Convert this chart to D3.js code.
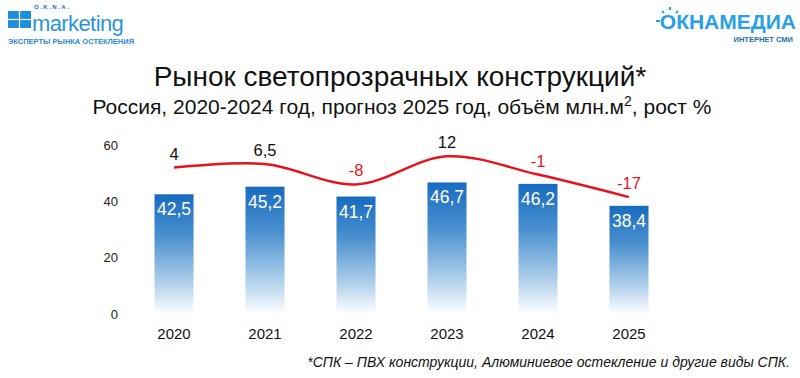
<!DOCTYPE html>
<html>
<head>
<meta charset="utf-8">
<script src="https://cdn.jsdelivr.net/npm/d3@7"></script>
<style>
  body { margin: 0; background: #fff; }
  svg { display: block; font-family: "Liberation Sans", Arial, sans-serif; }
</style>
</head>
<body>
<svg id="chart" width="800" height="378"></svg>
<script>
// данные
const years = ["2020", "2021", "2022", "2023", "2024", "2025"];
const volume = [42.5, 45.2, 41.7, 46.7, 46.2, 38.4];
const growth = [4, 6.5, -8, 12, -1, -17];
const yTicks = [0, 20, 40, 60];

const fmt = v => String(v).replace(".", ",");

let svg = d3.select("#chart");

let x = d3.scaleBand().domain(years).range([128.5, 674.5]).paddingInner(0.571).paddingOuter(0.2857);
let y = d3.scaleLinear().domain([0, 60]).range([314, 145]);
// вторая ось (рост %), не показана
let y2 = d3.scaleLinear().domain([-100, 20]).range([314, 145]);

// градиент столбиков
let grad = svg.append("defs").append("linearGradient")
  .attr("id", "barGrad").attr("x1", 0).attr("y1", 0).attr("x2", 0).attr("y2", 1);
grad.append("stop").attr("offset", "0%").attr("stop-color", "#176bbf");
grad.append("stop").attr("offset", "35%").attr("stop-color", "#4a90cf");
grad.append("stop").attr("offset", "75%").attr("stop-color", "#b3d2ec");
grad.append("stop").attr("offset", "100%").attr("stop-color", "#ffffff");

// заголовки
svg.append("text").attr("x", 400).attr("y", 86).attr("text-anchor", "middle")
  .attr("font-size", 28).attr("fill", "#111").text("Рынок светопрозрачных конструкций*");
let sub = svg.append("text").attr("x", 402).attr("y", 114).attr("text-anchor", "middle")
  .attr("font-size", 21).attr("fill", "#111");
sub.append("tspan").text("Россия, 2020-2024 год, прогноз 2025 год, объём млн.м");
sub.append("tspan").attr("font-size", 14).attr("dy", -8).text("2");
sub.append("tspan").attr("dy", 8).text(", рост %");

// ось Y
svg.append("g").selectAll("text")
  .data(yTicks).join("text")
  .attr("x", 118).attr("y", d => y(d)).attr("dy", "0.35em")
  .attr("text-anchor", "end").attr("font-size", 13).attr("fill", "#222")
  .text(d => d);

// столбики
svg.append("g").selectAll("rect")
  .data(volume).join("rect")
  .attr("x", (d, i) => x(years[i]))
  .attr("y", d => y(d))
  .attr("width", x.bandwidth())
  .attr("height", d => y(0) - y(d))
  .attr("fill", "url(#barGrad)");

svg.append("g").selectAll("text")
  .data(volume).join("text")
  .attr("x", (d, i) => x(years[i]) + x.bandwidth() / 2)
  .attr("y", d => y(d) + 21)
  .attr("text-anchor", "middle").attr("font-size", 17.5).attr("fill", "#fff")
  .text(d => fmt(d));

// подписи X
svg.append("g").selectAll("text")
  .data(years).join("text")
  .attr("x", d => x(d) + x.bandwidth() / 2).attr("y", 339)
  .attr("text-anchor", "middle").attr("font-size", 15).attr("fill", "#111")
  .text(d => d);

// линия роста
let line = d3.line()
  .x((d, i) => x(years[i]) + x.bandwidth() / 2)
  .y(d => y2(d))
  .curve(d3.curveCatmullRom.alpha(0.5));

svg.append("path")
  .datum(growth)
  .attr("fill", "none").attr("stroke", "#e8121a").attr("stroke-width", 2.5)
  .attr("d", line);

svg.append("g").selectAll("text")
  .data(growth).join("text")
  .attr("x", (d, i) => x(years[i]) + x.bandwidth() / 2)
  .attr("y", d => y2(d) - 8)
  .attr("text-anchor", "middle").attr("font-size", 16.5)
  .attr("fill", d => d < 0 ? "#e8121a" : "#111")
  .text(d => fmt(d));

// сноска
svg.append("text").attr("x", 790).attr("y", 367).attr("text-anchor", "end")
  .attr("font-size", 14).attr("font-style", "italic").attr("fill", "#111")
  .text("*СПК – ПВХ конструкции, Алюминиевое остекление и другие виды СПК.");

// логотип слева
let lg = svg.append("g");
lg.append("rect").attr("x", 8).attr("y", 11).attr("width", 23).attr("height", 17).attr("fill", "#1e8fd8");
lg.append("line").attr("x1", 19.5).attr("x2", 19.5).attr("y1", 11).attr("y2", 28).attr("stroke", "#fff").attr("stroke-width", 1.2);
lg.append("line").attr("x1", 8).attr("x2", 31).attr("y1", 19.5).attr("y2", 19.5).attr("stroke", "#fff").attr("stroke-width", 1.2);
lg.append("text").attr("x", 34).attr("y", 8.5).attr("font-size", 6).attr("font-weight", "bold")
  .attr("fill", "#1e6fb8").attr("letter-spacing", 1.5).text("O.K.N.A.");
lg.append("text").attr("x", 32).attr("y", 30.5).attr("font-size", 22)
  .attr("fill", "#2a95da").attr("letter-spacing", -0.6).text("marketing");
lg.append("text").attr("x", 8).attr("y", 44).attr("font-size", 7.5).attr("font-weight", "bold")
  .attr("fill", "#2a8ad2").text("ЭКСПЕРТЫ РЫНКА ОСТЕКЛЕНИЯ");

// логотип справа
let rg = svg.append("g");
rg.append("text").attr("x", 796).attr("y", 29).attr("text-anchor", "end")
  .attr("font-size", 21).attr("font-weight", "bold").attr("fill", "#2aa0e4")
  .text("ОКНАМЕДИА");
rg.append("line").attr("x1", 656).attr("x2", 660).attr("y1", 21).attr("y2", 21).attr("stroke", "#2aa0e4").attr("stroke-width", 2);
rg.append("line").attr("x1", 662).attr("x2", 664).attr("y1", 11).attr("y2", 13).attr("stroke", "#2aa0e4").attr("stroke-width", 2);
rg.append("line").attr("x1", 670).attr("x2", 670).attr("y1", 7).attr("y2", 10).attr("stroke", "#2aa0e4").attr("stroke-width", 2);
rg.append("line").attr("x1", 678).attr("x2", 676).attr("y1", 11).attr("y2", 13).attr("stroke", "#2aa0e4").attr("stroke-width", 2);
rg.append("text").attr("x", 793).attr("y", 42).attr("text-anchor", "end")
  .attr("font-size", 7.5).attr("font-weight", "bold").attr("fill", "#1f6fb5")
  .text("ИНТЕРНЕТ СМИ");
</script>
</body>
</html>
